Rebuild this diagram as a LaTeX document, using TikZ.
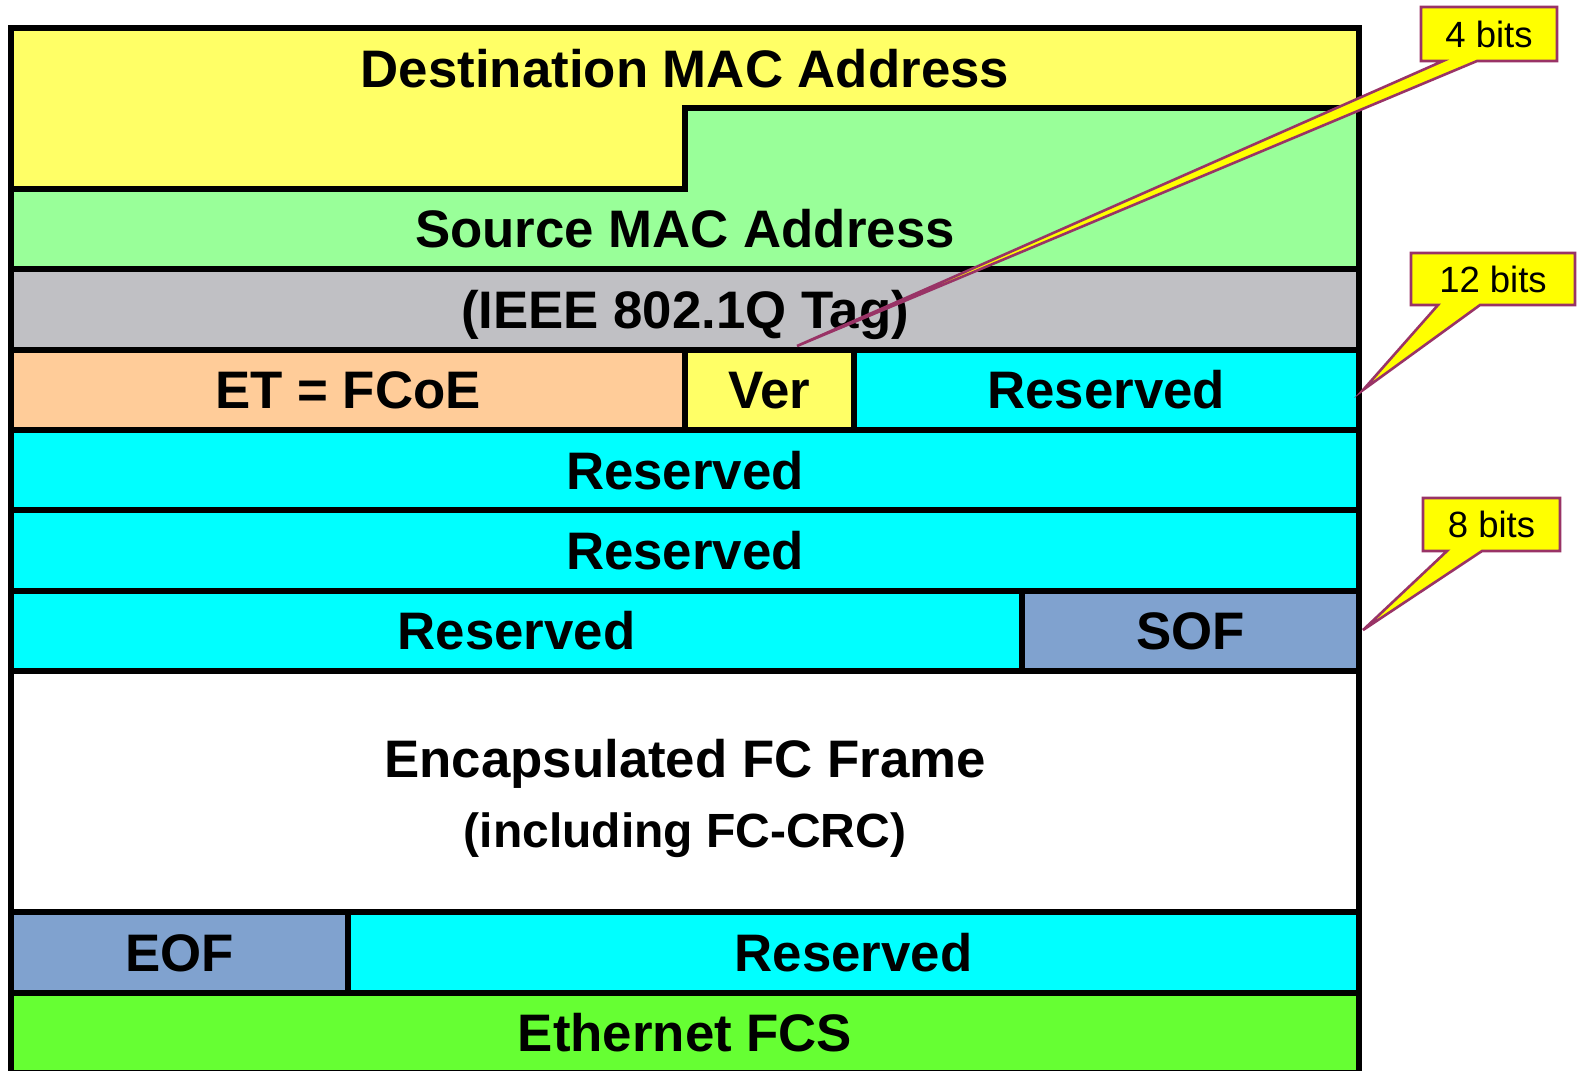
\documentclass[tikz,border=0pt]{standalone}
\usepackage{fontspec}
\setmainfont{Liberation Sans}
\usetikzlibrary{fit}
\definecolor{cYel}{HTML}{FFFF66}
\definecolor{cGrn}{HTML}{99FF99}
\definecolor{cGry}{HTML}{C0C0C4}
\definecolor{cPea}{HTML}{FFCC99}
\definecolor{cCya}{HTML}{00FFFF}
\definecolor{cBlu}{HTML}{80A2CF}
\definecolor{cFcs}{HTML}{66FF33}
\definecolor{cCal}{HTML}{FFFF00}
\definecolor{cPur}{HTML}{993366}
\begin{document}
\begin{tikzpicture}[x=0.5pt,y=-0.5pt,
  cell/.style={draw=black, line width=3pt, inner sep=0pt, outer sep=0pt},
  lbl/.style={inner sep=0pt, font=\bfseries\fontsize{26.4}{30}\selectfont, text height=18.9pt, text depth=0pt},
  sublbl/.style={inner sep=0pt, font=\bfseries\fontsize{24}{28}\selectfont, text height=17.2pt, text depth=0pt},
  band/.style={draw=black, line width=3pt},
  callbox/.style={draw=cPur, fill=cCal, line width=1.3pt},
  calltext/.style={inner sep=0pt, font=\fontsize{18.25}{22}\selectfont, text height=13.1pt, text depth=0pt}]
\clip (0,0) rectangle (1577,1070);
\fill[white] (0,0) rectangle (1577,1070);
% L-shaped MAC address bands
\draw[band, fill=cYel] (11,28) -- (1359,28) -- (1359,108.4) -- (685,108.4) -- (685,188.8) -- (11,188.8) -- cycle;
\draw[band, fill=cGrn] (685,108.4) -- (1359,108.4) -- (1359,269.2) -- (11,269.2) -- (11,188.8) -- (685,188.8) -- cycle;
\node[lbl] (dst) at (685,68.2) {Destination MAC Address};
\node[lbl] (src) at (685,229) {Source MAC Address};
% rows
\node[cell, fill=cGry, fit={(11,269.2) (1359,349.6)}] (tag) {};
\node[cell, fill=cPea, fit={(11,349.6) (685,430)}] (et) {};
\node[cell, fill=cYel, fit={(685,349.6) (853.5,430)}] (ver) {};
\node[cell, fill=cCya, fit={(853.5,349.6) (1359,430)}] (resa) {};
\node[cell, fill=cCya, fit={(11,430) (1359,510.4)}] (resb) {};
\node[cell, fill=cCya, fit={(11,510.4) (1359,590.8)}] (resc) {};
\node[cell, fill=cCya, fit={(11,590.8) (1022,671.2)}] (resd) {};
\node[cell, fill=cBlu, fit={(1022,590.8) (1359,671.2)}] (sof) {};
\node[cell, fill=white, fit={(11,671.2) (1359,912.4)}] (encap) {};
\node[cell, fill=cBlu, fit={(11,912.4) (348,992.8)}] (eof) {};
\node[cell, fill=cCya, fit={(348,912.4) (1359,992.8)}] (rese) {};
\node[cell, fill=cFcs, fit={(11,992.8) (1359,1073.2)}] (fcs) {};
% labels
\node[lbl] (tagL) at (tag.center) {(IEEE 802.1Q Tag)};
\node[lbl] (etL) at (et.center) {ET = FCoE};
\node[lbl] (verL) at (ver.center) {Ver};
\node[lbl] (resaL) at (resa.center) {Reserved};
\node[lbl] (resbL) at (resb.center) {Reserved};
\node[lbl] (rescL) at (resc.center) {Reserved};
\node[lbl] (resdL) at (resd.center) {Reserved};
\node[lbl] (sofL) at (sof.center) {SOF};
\node[lbl] (encT) at (685,758.5) {Encapsulated FC Frame};
\node[sublbl] (encS) at (685,830.5) {(including FC-CRC)};
\node[lbl] (eofL) at (eof.center) {EOF};
\node[lbl] (reseL) at (rese.center) {Reserved};
\node[lbl] (fcsL) at (fcs.center) {Ethernet FCS};
% callouts
\draw[callbox] (1421,7) -- (1557,7) -- (1557,61) -- (1477,61) -- (797,346) -- (1443,61) -- (1421,61) -- cycle;
\node[calltext] (b4) at (1489,34) {4 bits};
\draw[callbox] (1411,253) -- (1575,253) -- (1575,305) -- (1480,305) -- (1363,390) -- (1438,305) -- (1411,305) -- cycle;
\node[calltext] (b12) at (1493,279) {12 bits};
\draw[callbox] (1423,498) -- (1560,498) -- (1560,551) -- (1482,551) -- (1363,630) -- (1447,551) -- (1423,551) -- cycle;
\node[calltext] (b8) at (1491.5,524.5) {8 bits};
\end{tikzpicture}
\end{document}
